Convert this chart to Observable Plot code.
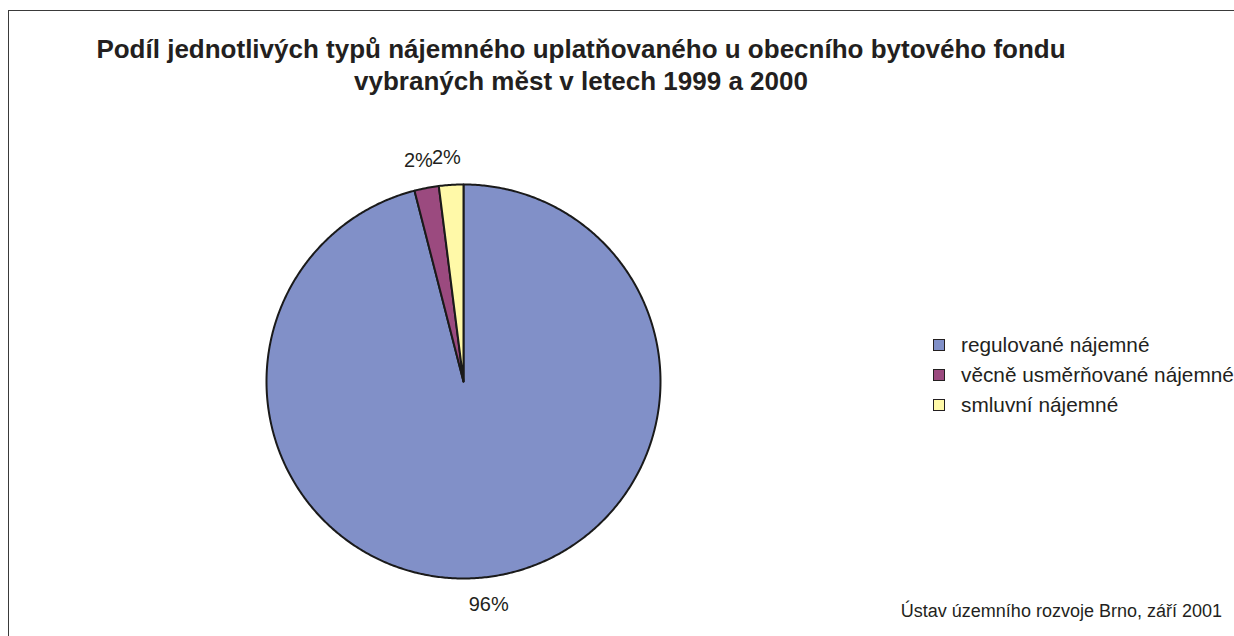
<!DOCTYPE html>
<html><head><meta charset="utf-8">
<script src="https://cdn.jsdelivr.net/npm/d3@7"></script>
<script src="https://cdn.jsdelivr.net/npm/@observablehq/plot@0.6"></script>
<style>
html,body{margin:0;background:#fff;overflow:hidden;}
#wrap{position:relative;width:1234px;height:636px;overflow:hidden;font-family:"Liberation Sans",Arial,Helvetica,sans-serif;color:#231f20;background:#fff;}
#frame{position:absolute;left:8px;top:10px;width:1400px;height:800px;border-left:1.5px solid #3a3a3a;border-top:1.5px solid #3a3a3a;}
#title{position:absolute;left:0;width:1162px;top:33px;text-align:center;font-weight:bold;font-size:26px;line-height:32px;}
#chart{position:absolute;left:0;top:0;}
#legend{position:absolute;left:933px;top:330px;font-size:20.8px;white-space:nowrap;}
.row{height:30px;display:flex;align-items:center;}
.sw{width:10px;height:10px;border:1.5px solid #231f20;margin-right:16px;flex:none;}
#caption{position:absolute;right:12px;top:602px;font-size:18px;line-height:18px;white-space:nowrap;}
</style></head>
<body>
<div id="wrap">
  <div id="frame"></div>
  <div id="chart"></div>
  <div id="title"></div>
  <div id="legend"></div>
  <div id="caption"></div>
</div>
<script>
const titleLines = ["Podíl jednotlivých typů nájemného uplatňovaného u obecního bytového fondu", "vybraných měst v letech 1999 a 2000"];
const categories = ["regulované nájemné", "věcně usměrňované nájemné", "smluvní nájemné"];
const values = [96, 2, 2];
const valueLabels = ["96%", "2%", "2%"];
const colors = ["#8190c8", "#9b4a7f", "#fff9a8"];
const captionText = "Ústav územního rozvoje Brno, září 2001";

document.getElementById("title").innerHTML = titleLines.map(t => `<div>${t}</div>`).join("");
document.getElementById("caption").textContent = captionText;
document.getElementById("legend").innerHTML = categories.map((c, i) =>
  `<div class="row"><div class="sw" style="background:${colors[i]}"></div><span>${c}</span></div>`).join("");

const arcs = d3.pie().sort(null).value(d => d.value)(categories.map((name, i) => ({name, value: values[i], label: valueLabels[i]})));

const points = [];
for (const a of arcs) {
  points.push({name: a.data.name, x: 0, y: 0});
  const n = Math.max(2, Math.ceil((a.endAngle - a.startAngle) / (Math.PI / 360)));
  for (let k = 0; k <= n; k++) {
    const t = a.startAngle + (a.endAngle - a.startAngle) * k / n;
    points.push({name: a.data.name, x: Math.sin(t), y: Math.cos(t)});
  }
}
const labelR = 1.14;
const labels = arcs.map(a => {
  const m = (a.startAngle + a.endAngle) / 2;
  return {text: a.data.label, x: labelR * Math.sin(m), y: labelR * Math.cos(m)};
});

const chart = Plot.plot({
  width: 1234,
  height: 636,
  margin: 0,
  style: {background: "transparent", overflow: "visible"},
  x: {domain: [-1, 1], range: [266, 660], axis: null},
  y: {domain: [-1, 1], range: [578, 184], axis: null},
  color: {domain: categories, range: colors},
  marks: [
    Plot.line(points, {x: "x", y: "y", z: "name", fill: "name", stroke: "#1a1a1a", strokeWidth: 2, strokeLinejoin: "round", curve: "linear-closed"}),
    Plot.text(labels, {x: "x", y: "y", text: "text", fontSize: 20, dx: -3, fill: "#231f20", fontFamily: "Liberation Sans, Arial, sans-serif"})
  ]
});
document.getElementById("chart").appendChild(chart);
</script>
</body></html>
